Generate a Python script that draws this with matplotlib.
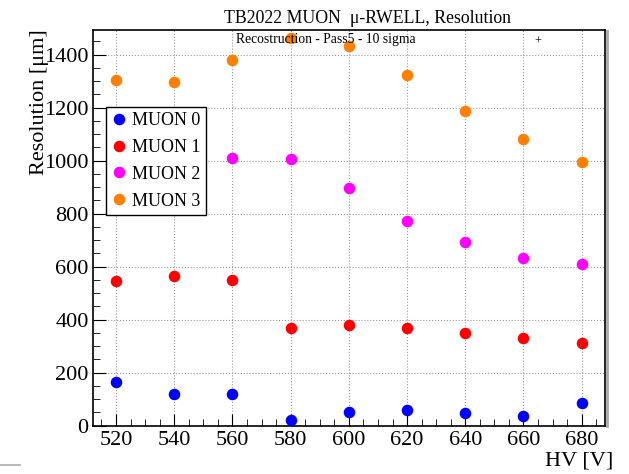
import matplotlib
matplotlib.use("Agg")
import matplotlib.pyplot as plt
from matplotlib.ticker import MultipleLocator
from matplotlib.lines import Line2D

plt.rcParams['font.family'] = ['Liberation Serif', 'DejaVu Serif']

hv = [520, 540, 560, 580, 600, 620, 640, 660, 680]
muon0 = [163, 121, 118, 23, 53, 61, 49, 38, 87]
muon1 = [546, 565, 550, 368, 379, 368, 349, 330, 311]
hv2 = [560, 580, 600, 620, 640, 660, 680]
muon2 = [1009, 1005, 895, 774, 694, 634, 611]
muon3 = [1305, 1297, 1381, 1462, 1434, 1324, 1187, 1081, 994]

series = [
    (hv, muon0, "MUON 0", "#0000ff"),
    (hv, muon1, "MUON 1", "#ff0000"),
    (hv2, muon2, "MUON 2", "#ff00ff"),
    (hv, muon3, "MUON 3", "#ff7f00"),
]

fig = plt.figure(figsize=(6.29, 4.74), dpi=100)
ax = fig.add_axes([0.1474, 0.1019, 0.8144, 0.8354])

for x, y, name, col in series:
    ax.plot(x, y, 'o', color=col, markersize=7.3, label=name, clip_on=False, zorder=3)

ax.set_xlim(512, 688)
ax.set_ylim(0, 1494)
ax.xaxis.set_major_locator(MultipleLocator(20))
ax.xaxis.set_minor_locator(MultipleLocator(5))
ax.yaxis.set_major_locator(MultipleLocator(200))
ax.yaxis.set_minor_locator(MultipleLocator(50))
ax.tick_params(which='both', direction='in', top=False, right=False, labelsize=16)
ax.tick_params(which='major', length=9)
ax.tick_params(which='minor', length=5)
ax.tick_params(axis='y', pad=3)
ax.grid(True, which='major', linestyle=':', color='#999999', linewidth=0.8)
for s in ax.spines.values():
    s.set_linewidth(1.2)

ax.set_xlabel("HV [V]", fontsize=16, loc='right')
ax.xaxis.set_label_coords(1.016, -0.066)
ax.set_ylabel("Resolution [μm]", fontsize=16, loc='top')
ax.yaxis.set_label_coords(-0.085, 1.0)

fig.text(0.585, 0.962, "TB2022 MUON  μ-RWELL, Resolution", ha='center', va='center', fontsize=12.8)
ax.text(0.455, 0.976, "Recostruction - Pass5 - 10 sigma", transform=ax.transAxes,
        ha='center', va='center', fontsize=9.8)
fig.text(0.855, 0.911, "+", ha='center', va='center', fontsize=9)

leg = ax.legend(loc='upper left', bbox_to_anchor=(0.026, 0.806), borderaxespad=0,
                fontsize=13, frameon=True, fancybox=False, edgecolor='black', framealpha=1,
                handletextpad=0.33, borderpad=0.3, labelspacing=0.55, handlelength=0.8)
leg.get_frame().set_linewidth(1.0)

# frame shadow on the right and the stray mark at the bottom left
fig.add_artist(Line2D([0.9646, 0.9646], [0.1019, 0.935], color='#aaaaaa', linewidth=2))
fig.add_artist(Line2D([0.0, 0.032], [0.019, 0.019], color='#bbbbbb', linewidth=1.5))

fig.savefig("out.png", dpi=100)
